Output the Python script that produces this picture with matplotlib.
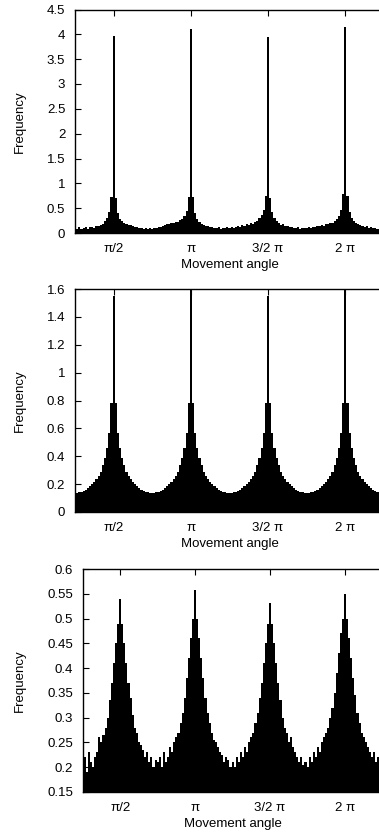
import numpy as np
import matplotlib
matplotlib.use('Agg')
import matplotlib.pyplot as plt
from matplotlib.ticker import FormatStrFormatter

plt.rcParams['font.family'] = ['Liberation Sans', 'DejaVu Sans']

# histogram bins: 2.5 degree wide, centred from pi/4 to 9pi/4
bin_deg = 2.5
start_deg = 45.0
tick_labels = ['\u03c0/2', '\u03c0', '3/2 \u03c0', '2 \u03c0']
tick_deg = [90, 180, 270, 360]

freq_top = [
    0.11, 0.08, 0.12, 0.09, 0.10, 0.13, 0.09, 0.12, 0.13, 0.11, 0.15, 0.14, 0.17, 0.18, 0.24, 0.30, 0.42, 0.72,
    3.97,
    0.70, 0.40, 0.29, 0.24, 0.20, 0.18, 0.16, 0.17, 0.14, 0.13, 0.12, 0.10, 0.11, 0.09, 0.10, 0.08, 0.10,
    0.09,
    0.11, 0.10, 0.13, 0.12, 0.15, 0.16, 0.19, 0.18, 0.21, 0.20, 0.23, 0.22, 0.26, 0.28, 0.35, 0.45, 0.73,
    4.10,
    0.72, 0.41, 0.28, 0.22, 0.19, 0.17, 0.14, 0.15, 0.12, 0.13, 0.11, 0.10, 0.12, 0.09, 0.11, 0.10, 0.12,
    0.10,
    0.13, 0.11, 0.12, 0.14, 0.13, 0.16, 0.15, 0.18, 0.17, 0.20, 0.19, 0.22, 0.25, 0.30, 0.36, 0.46, 0.74,
    3.95,
    0.71, 0.42, 0.30, 0.24, 0.20, 0.17, 0.18, 0.14, 0.15, 0.12, 0.13, 0.11, 0.10, 0.12, 0.09, 0.11, 0.10,
    0.11,
    0.12, 0.10, 0.13, 0.12, 0.15, 0.14, 0.16, 0.15, 0.18, 0.19, 0.21, 0.20, 0.24, 0.29, 0.35, 0.47, 0.78,
    4.15,
    0.75, 0.43, 0.31, 0.25, 0.21, 0.18, 0.16, 0.15, 0.13, 0.14, 0.11, 0.12, 0.10, 0.11, 0.09, 0.12, 0.10,
    0.11,
]

freq_mid = [
    0.133, 0.135, 0.14, 0.145, 0.15, 0.16, 0.17, 0.185, 0.2, 0.215, 0.235, 0.26, 0.29, 0.34, 0.39, 0.46, 0.57, 0.78,
    1.55,
    0.78, 0.57, 0.46, 0.39, 0.34, 0.29, 0.26, 0.235, 0.215, 0.2, 0.185, 0.17, 0.16, 0.15, 0.145, 0.14, 0.135,
    0.133,
    0.135, 0.14, 0.145, 0.15, 0.16, 0.17, 0.185, 0.2, 0.215, 0.235, 0.26, 0.29, 0.34, 0.39, 0.46, 0.57, 0.78,
    1.65,
    0.78, 0.57, 0.46, 0.39, 0.34, 0.29, 0.26, 0.235, 0.215, 0.2, 0.185, 0.17, 0.16, 0.15, 0.145, 0.14, 0.135,
    0.133,
    0.135, 0.14, 0.145, 0.15, 0.16, 0.17, 0.185, 0.2, 0.215, 0.235, 0.26, 0.29, 0.34, 0.39, 0.46, 0.57, 0.78,
    1.55,
    0.78, 0.57, 0.46, 0.39, 0.34, 0.29, 0.26, 0.235, 0.215, 0.2, 0.185, 0.17, 0.16, 0.15, 0.145, 0.14, 0.135,
    0.133,
    0.135, 0.14, 0.145, 0.15, 0.16, 0.17, 0.185, 0.2, 0.215, 0.235, 0.26, 0.29, 0.34, 0.39, 0.46, 0.57, 0.78,
    1.65,
    0.78, 0.57, 0.46, 0.39, 0.34, 0.29, 0.26, 0.235, 0.215, 0.2, 0.185, 0.17, 0.16, 0.15, 0.145, 0.14, 0.135,
    0.133,
]

freq_bot = [
    0.20, 0.22, 0.19, 0.23, 0.21, 0.20, 0.22, 0.23, 0.26, 0.25, 0.265, 0.28, 0.30, 0.335, 0.37, 0.41, 0.45, 0.49,
    0.54,
    0.49, 0.45, 0.41, 0.37, 0.34, 0.305, 0.28, 0.27, 0.25, 0.245, 0.235, 0.22, 0.23, 0.21, 0.22, 0.20, 0.215,
    0.21,
    0.22, 0.20, 0.23, 0.21, 0.22, 0.24, 0.23, 0.25, 0.26, 0.27, 0.29, 0.31, 0.34, 0.38, 0.42, 0.46, 0.50,
    0.557,
    0.50, 0.46, 0.42, 0.38, 0.34, 0.31, 0.29, 0.27, 0.255, 0.25, 0.24, 0.23, 0.225, 0.21, 0.22, 0.215, 0.20,
    0.21,
    0.20, 0.22, 0.21, 0.23, 0.22, 0.24, 0.23, 0.25, 0.26, 0.27, 0.29, 0.31, 0.34, 0.37, 0.41, 0.45, 0.49,
    0.532,
    0.49, 0.45, 0.41, 0.37, 0.335, 0.30, 0.28, 0.27, 0.25, 0.26, 0.24, 0.23, 0.22, 0.21, 0.22, 0.205, 0.21,
    0.20,
    0.22, 0.21, 0.23, 0.22, 0.24, 0.23, 0.25, 0.26, 0.27, 0.28, 0.30, 0.32, 0.35, 0.39, 0.43, 0.47, 0.50,
    0.55,
    0.50, 0.46, 0.42, 0.38, 0.345, 0.31, 0.29, 0.27, 0.26, 0.25, 0.24, 0.23, 0.22, 0.23, 0.21, 0.22, 0.21,
    0.22,
]

W, H = 379, 832
fig = plt.figure(figsize=(W / 100, H / 100), dpi=100)

def px_axes(left, right, top, bottom):
    return fig.add_axes([left / W, 1 - bottom / H, (right - left) / W, (bottom - top) / H])

panels = [
    (freq_top, px_axes(75, 384, 9.5, 233), (0, 4.5), 0.5),
    (freq_mid, px_axes(75, 384, 289, 512), (0, 1.6), 0.2),
    (freq_bot, px_axes(82.7, 382.5, 569, 792), (0.15, 0.6), 0.05),
]

for vals, ax, ylim, ystep in panels:
    centers = np.deg2rad(start_deg + bin_deg * np.arange(len(vals)))
    ax.bar(centers, vals, width=np.deg2rad(bin_deg), color='black', linewidth=0, align='center')
    ax.set_xlim(np.deg2rad(45), np.deg2rad(405))
    ax.set_ylim(*ylim)
    ax.set_xticks(np.deg2rad(tick_deg))
    ax.set_xticklabels(tick_labels)
    ax.set_yticks(np.arange(ylim[0], ylim[1] + ystep / 2, ystep))
    ax.yaxis.set_major_formatter(FormatStrFormatter('%g'))
    ax.tick_params(direction='in', length=4, width=0.8, labelsize=9.5, top=True, right=False, pad=7)
    ax.spines['right'].set_visible(False)
    for s in ['left', 'top', 'bottom']:
        ax.spines[s].set_linewidth(1.0)
    ax.set_xlabel('Movement angle', fontsize=9.5, labelpad=3)
    ax.set_ylabel('Frequency', fontsize=9.5)
    # y label: right edge of rotated text sits at x = 26 px
    pos = ax.get_position()
    ax.yaxis.set_label_coords((26 / W - pos.x0) / pos.width, 0.5)

fig.savefig('out.png', dpi=100)
